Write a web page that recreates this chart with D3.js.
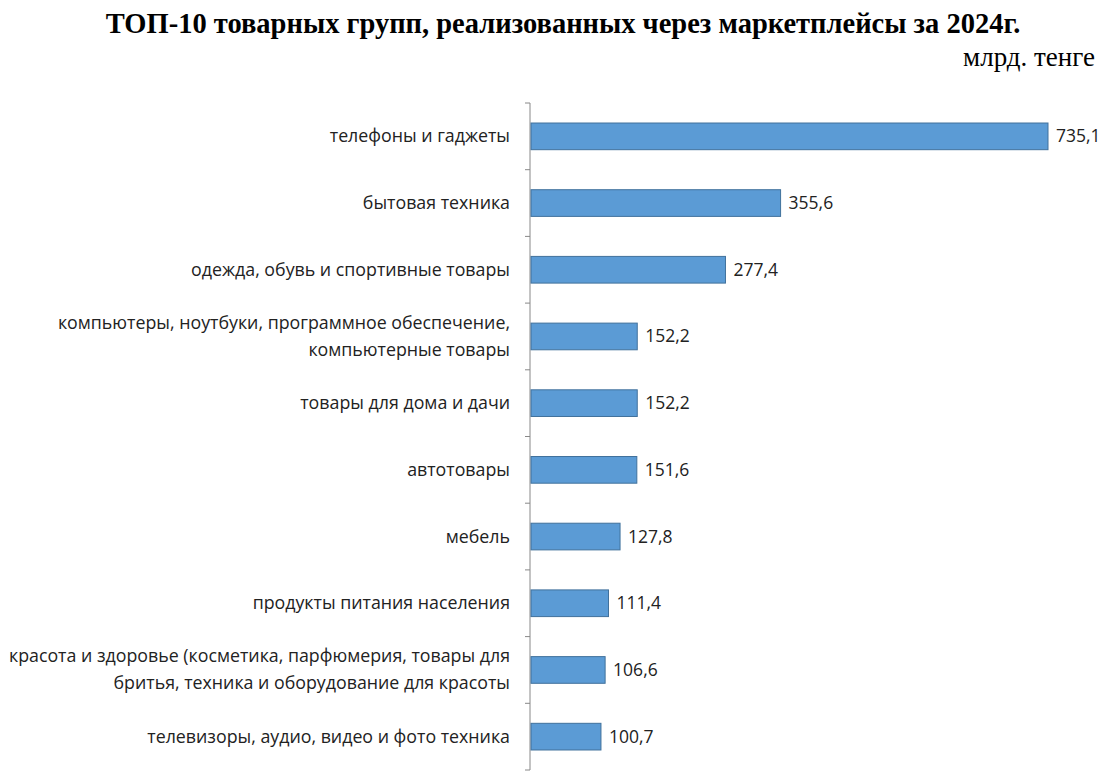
<!DOCTYPE html>
<html><head><meta charset="utf-8">
<script src="https://cdn.jsdelivr.net/npm/d3@7"></script>
<style>body{margin:0;background:#fff}</style>
</head><body>
<script>
// data
const categories = [
  ["телефоны и гаджеты"],
  ["бытовая техника"],
  ["одежда, обувь и спортивные товары"],
  ["компьютеры, ноутбуки, программное обеспечение,", "компьютерные товары"],
  ["товары для дома и дачи"],
  ["автотовары"],
  ["мебель"],
  ["продукты питания населения"],
  ["красота и здоровье (косметика, парфюмерия, товары для", "бритья, техника и оборудование для красоты"],
  ["телевизоры, аудио, видео и фото техника"]
];
const values = [735.1, 355.6, 277.4, 152.2, 152.2, 151.6, 127.8, 111.4, 106.6, 100.7];
const fmt = v => v.toFixed(1).replace(".", ",");

const W = 1120, H = 771;
const svg = d3.select("body").append("svg").attr("width", W).attr("height", H);

svg.append("text").attr("x", 563).attr("y", 33).attr("text-anchor", "middle")
  .style("font", "bold 28.5px 'Liberation Serif', serif")
  .text("ТОП-10 товарных групп, реализованных через маркетплейсы за 2024г.");
svg.append("text").attr("x", 1095).attr("y", 66).attr("text-anchor", "end")
  .style("font", "27px 'Liberation Serif', serif").text("млрд. тенге");

const x0 = 530;
const x = d3.scaleLinear().domain([0, 735.1]).range([x0, 1048]);
const idx = d3.range(values.length);
const y = d3.scaleBand().domain(idx).range([103, 770]).paddingInner(0.6).paddingOuter(0.3);

// axis line with ticks at category boundaries
svg.append("line").attr("x1", x0).attr("x2", x0).attr("y1", 103).attr("y2", 770)
  .attr("stroke", "#888");
const bounds = d3.range(values.length + 1).map(i => 103 + i * y.step());
svg.selectAll(".tk").data(bounds).join("line")
  .attr("x1", x0 - 5).attr("x2", x0).attr("y1", d => d).attr("y2", d => d).attr("stroke", "#888");

svg.selectAll(".bar").data(idx).join("rect")
  .attr("x", x0 + 1).attr("y", i => y(i))
  .attr("width", i => x(values[i]) - x0 - 1).attr("height", y.bandwidth())
  .attr("fill", "#5b9bd5").attr("stroke", "#41719c").attr("stroke-width", 1);

svg.selectAll(".val").data(idx).join("text")
  .attr("x", i => x(values[i]) + 8).attr("y", i => y(i) + y.bandwidth() / 2 + 6)
  .style("font", "17.5px 'Open Sans', sans-serif").attr("fill", "#222")
  .text(i => fmt(values[i]));

const lab = svg.selectAll(".lab").data(idx).join("text")
  .attr("text-anchor", "end").style("font", "17.8px 'Open Sans', sans-serif").attr("fill", "#222");
lab.each(function(i) {
  const lines = categories[i];
  const cy = y(i) + y.bandwidth() / 2;
  const lh = 27;
  d3.select(this).selectAll("tspan").data(lines).join("tspan")
    .attr("x", 510)
    .attr("y", (d, k) => cy + 6 + (k - (lines.length - 1) / 2) * lh)
    .text(d => d);
});
</script>
</body></html>
